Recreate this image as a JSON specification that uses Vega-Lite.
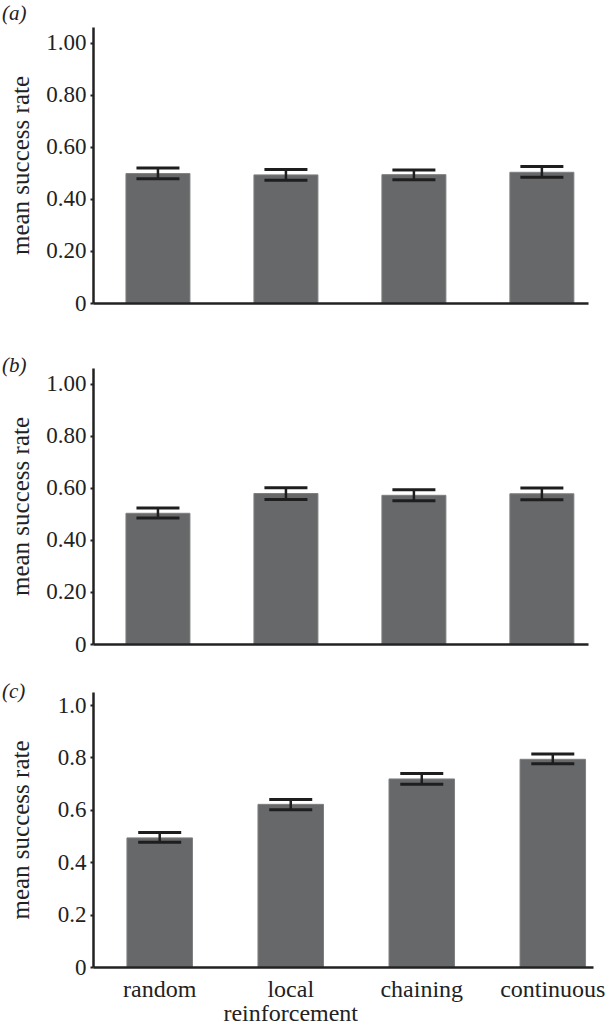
{
  "$schema": "https://vega.github.io/schema/vega-lite/v6.json",
  "padding": {"left": 2, "top": 3, "right": 5, "bottom": 5},
  "spacing": 25,
  "config": {
    "view": {"stroke": null},
    "font": "Liberation Serif",
    "axis": {"domainColor": "#222222", "domainWidth": 2.5, "tickColor": "#222222", "labelFont": "Liberation Serif", "titleFont": "Liberation Serif", "labelColor": "#222222", "titleColor": "#222222", "grid": false, "labelFontSize": 23, "titleFontSize": 25, "titleFontWeight": "normal"},
    "title": {"font": "Liberation Serif", "fontSize": 21, "fontStyle": "italic", "fontWeight": "normal", "anchor": "start", "frame": "group", "color": "#222222", "dx": -91}
  },
  "data": {"values": [
    {"panel": "a", "condition": "random", "mean": 0.497, "lo": 0.477, "hi": 0.518},
    {"panel": "a", "condition": "local reinforcement", "mean": 0.492, "lo": 0.471, "hi": 0.513},
    {"panel": "a", "condition": "chaining", "mean": 0.493, "lo": 0.473, "hi": 0.511},
    {"panel": "a", "condition": "continuous", "mean": 0.502, "lo": 0.483, "hi": 0.524},
    {"panel": "b", "condition": "random", "mean": 0.502, "lo": 0.484, "hi": 0.522},
    {"panel": "b", "condition": "local reinforcement", "mean": 0.578, "lo": 0.555, "hi": 0.600},
    {"panel": "b", "condition": "chaining", "mean": 0.571, "lo": 0.550, "hi": 0.592},
    {"panel": "b", "condition": "continuous", "mean": 0.577, "lo": 0.554, "hi": 0.599},
    {"panel": "c", "condition": "random", "mean": 0.493, "lo": 0.476, "hi": 0.514},
    {"panel": "c", "condition": "local reinforcement", "mean": 0.621, "lo": 0.600, "hi": 0.640},
    {"panel": "c", "condition": "chaining", "mean": 0.718, "lo": 0.698, "hi": 0.739},
    {"panel": "c", "condition": "continuous", "mean": 0.793, "lo": 0.776, "hi": 0.813}
  ]},
  "vconcat": [
    {
      "title": {"text": "(a)", "offset": 3},
      "width": 495, "height": 276,
      "transform": [{"filter": "datum.panel == 'a'"}],
      "encoding": {"x": {"field": "condition", "type": "nominal", "sort": ["random", "local reinforcement", "chaining", "continuous"], "scale": {"paddingInner": 0.5, "paddingOuter": 0.184, "align": 0.7}, "axis": {"labels": false, "ticks": true, "tickSize": 27, "tickOpacity": 0, "title": null, "zindex": 1}}},
      "layer": [
        {"mark": {"type": "bar", "color": "#67686a", "stroke": "#7e7f81", "strokeWidth": 1},
         "encoding": {"y": {"field": "mean", "type": "quantitative", "scale": {"domain": [0, 1.06], "nice": false}, "axis": {"title": "mean success rate", "values": [0, 0.1, 0.2, 0.3, 0.4, 0.5, 0.6, 0.7, 0.8, 0.9, 1.0], "labelExpr": "round(datum.value*10) % 2 == 0 ? (datum.value == 0 ? '0' : format(datum.value, '.2f')) : ''", "tickSize": 3, "tickWidth": 2, "labelPadding": 4, "titlePadding": 12}}}},
        {"mark": {"type": "rule", "color": "#1e1e1e", "strokeWidth": 2.5}, "encoding": {"y": {"field": "lo", "type": "quantitative"}, "y2": {"field": "hi"}}},
        {"mark": {"type": "tick", "color": "#1e1e1e", "thickness": 3, "size": 43, "opacity": 1}, "encoding": {"y": {"field": "lo", "type": "quantitative"}}},
        {"mark": {"type": "tick", "color": "#1e1e1e", "thickness": 3, "size": 43, "opacity": 1}, "encoding": {"y": {"field": "hi", "type": "quantitative"}}}
      ]
    },
    {
      "title": {"text": "(b)", "offset": -8},
      "width": 495, "height": 276,
      "transform": [{"filter": "datum.panel == 'b'"}],
      "encoding": {"x": {"field": "condition", "type": "nominal", "sort": ["random", "local reinforcement", "chaining", "continuous"], "scale": {"paddingInner": 0.5, "paddingOuter": 0.184, "align": 0.7}, "axis": {"labels": false, "ticks": false, "title": null, "zindex": 1}}},
      "layer": [
        {"mark": {"type": "bar", "color": "#67686a", "stroke": "#7e7f81", "strokeWidth": 1},
         "encoding": {"y": {"field": "mean", "type": "quantitative", "scale": {"domain": [0, 1.06], "nice": false}, "axis": {"title": "mean success rate", "values": [0, 0.1, 0.2, 0.3, 0.4, 0.5, 0.6, 0.7, 0.8, 0.9, 1.0], "labelExpr": "round(datum.value*10) % 2 == 0 ? (datum.value == 0 ? '0' : format(datum.value, '.2f')) : ''", "tickSize": 3, "tickWidth": 2, "labelPadding": 4, "titlePadding": 12}}}},
        {"mark": {"type": "rule", "color": "#1e1e1e", "strokeWidth": 2.5}, "encoding": {"y": {"field": "lo", "type": "quantitative"}, "y2": {"field": "hi"}}},
        {"mark": {"type": "tick", "color": "#1e1e1e", "thickness": 3, "size": 43, "opacity": 1}, "encoding": {"y": {"field": "lo", "type": "quantitative"}}},
        {"mark": {"type": "tick", "color": "#1e1e1e", "thickness": 3, "size": 43, "opacity": 1}, "encoding": {"y": {"field": "hi", "type": "quantitative"}}}
      ]
    },
    {
      "title": {"text": "(c)", "offset": -10},
      "width": 500, "height": 275,
      "transform": [{"filter": "datum.panel == 'c'"}],
      "encoding": {"x": {"field": "condition", "type": "nominal", "sort": ["random", "local reinforcement", "chaining", "continuous"], "scale": {"paddingInner": 0.5, "paddingOuter": 0.158, "align": 0.82}, "axis": {"labels": true, "ticks": false, "title": null, "zindex": 1, "labelAngle": 0, "labelPadding": 10, "labelFontSize": 24, "labelLineHeight": 24, "labelExpr": "datum.label == 'local reinforcement' ? ['local', 'reinforcement'] : datum.label"}}},
      "layer": [
        {"mark": {"type": "bar", "color": "#67686a", "stroke": "#7e7f81", "strokeWidth": 1},
         "encoding": {"y": {"field": "mean", "type": "quantitative", "scale": {"domain": [0, 1.05], "nice": false}, "axis": {"title": "mean success rate", "values": [0, 0.1, 0.2, 0.3, 0.4, 0.5, 0.6, 0.7, 0.8, 0.9, 1.0], "labelExpr": "round(datum.value*10) % 2 == 0 ? (datum.value == 0 ? '0' : format(datum.value, '.1f')) : ''", "tickSize": 3, "tickWidth": 2, "labelPadding": 4, "titlePadding": 24}}}},
        {"mark": {"type": "rule", "color": "#1e1e1e", "strokeWidth": 2.5}, "encoding": {"y": {"field": "lo", "type": "quantitative"}, "y2": {"field": "hi"}}},
        {"mark": {"type": "tick", "color": "#1e1e1e", "thickness": 3, "size": 43, "opacity": 1}, "encoding": {"y": {"field": "lo", "type": "quantitative"}}},
        {"mark": {"type": "tick", "color": "#1e1e1e", "thickness": 3, "size": 43, "opacity": 1}, "encoding": {"y": {"field": "hi", "type": "quantitative"}}}
      ]
    }
  ]
}
